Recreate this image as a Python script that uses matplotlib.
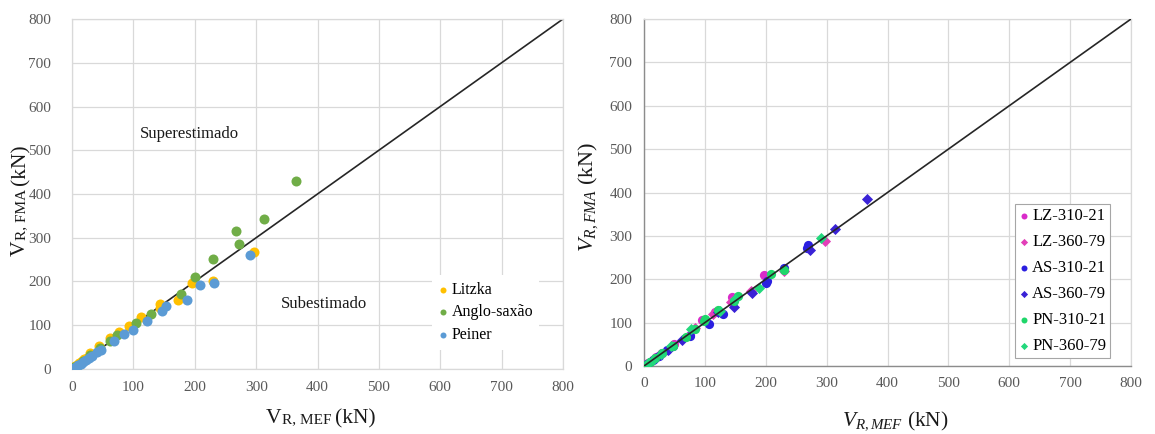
import matplotlib
matplotlib.use("Agg")
import matplotlib.pyplot as plt
from matplotlib.transforms import IdentityTransform

plt.rcParams["font.family"] = ["Liberation Serif", "DejaVu Serif"]
plt.rcParams["mathtext.fontset"] = "custom"
plt.rcParams["mathtext.rm"] = "Liberation Serif"
plt.rcParams["mathtext.it"] = "Liberation Serif:italic"

# ---------------- left panel: three analytical methods ----------------
litzka_mef = [297, 229, 196, 173, 144, 143, 112, 93, 77, 62, 44, 29, 24, 20, 16, 12, 8, 5, 2]
litzka_fma = [268, 202, 197, 158, 149, 140, 119, 99, 84, 71, 52, 37, 26, 22, 18, 13, 9, 6, 3]

anglo_mef = [365, 313, 268, 272, 229, 200, 177, 129, 105, 74, 62, 45, 30, 18, 10, 4]
anglo_fma = [429, 344, 315, 286, 252, 210, 172, 126, 105, 78, 63, 47, 32, 19, 10, 4]

peiner_mef = [290, 231, 208, 187, 153, 147, 123, 100, 84, 68, 47, 41, 32, 28, 22, 18, 14, 10, 6, 3, 1]
peiner_fma = [261, 196, 191, 157, 145, 132, 109, 90, 80, 63, 44, 38, 29, 25, 20, 16, 12, 9, 5, 2, 1]

left_series = ["Litzka", "Anglo-saxão", "Peiner"]

# ---------------- right panel: method / section combinations ----------------
lz310_mef = [197, 145, 116, 96, 75, 50, 30, 20, 10, 5, 2]
lz310_fma = [210, 158, 125, 106, 72, 50, 30, 20, 10, 5, 2]
lz360_mef = [298, 230, 176, 143, 113, 83, 47, 25, 12, 4]
lz360_fma = [289, 218, 174, 148, 120, 87, 48, 25, 12, 4]
as310_mef = [269, 268, 230, 200, 202, 130, 107, 75, 47, 37, 25, 15, 5]
as310_fma = [278, 273, 227, 191, 195, 119, 97, 70, 46, 37, 24, 14, 5]
as360_mef = [366, 314, 273, 178, 148, 122, 63, 40, 20, 8]
as360_fma = [385, 315, 267, 168, 137, 124, 60, 38, 19, 8]
pn310_mef = [230, 209, 154, 148, 122, 101, 99, 83, 69, 47, 30, 18, 10, 3]
pn310_fma = [222, 212, 162, 150, 129, 108, 104, 85, 68, 45, 30, 18, 10, 3]
pn360_mef = [290, 189, 150, 125, 78, 45, 28, 14, 6]
pn360_fma = [294, 179, 155, 127, 85, 47, 28, 14, 6]

right_series = ["LZ-310-21", "LZ-360-79", "AS-310-21", "AS-360-79", "PN-310-21", "PN-360-79"]

ticks = [0, 100, 200, 300, 400, 500, 600, 700, 800]
limit = 800

GRID = "#D9D9D9"
TICK_COLOR = "#595959"
TEXT_COLOR = "#1a1a1a"

fig = plt.figure(figsize=(11.55, 4.34), dpi=100)
ax1 = fig.add_axes([0.06234, 0.14977, 0.42511, 0.80645])
ax2 = fig.add_axes([0.55758, 0.15668, 0.42165, 0.79954])


def style_axes(ax, xpad, ypad):
    ax.set_xlim(0, limit)
    ax.set_ylim(0, limit)
    ax.set_xticks(ticks)
    ax.set_yticks(ticks)
    ax.grid(True, color=GRID, linewidth=0.9)
    ax.set_axisbelow(True)
    ax.tick_params(axis="x", length=0, pad=xpad, labelsize=11, labelcolor=TICK_COLOR)
    ax.tick_params(axis="y", length=0, pad=ypad, labelsize=11, labelcolor=TICK_COLOR)


# left panel
style_axes(ax1, 8.5, 15)
for sp in ax1.spines.values():
    sp.set_color(GRID)
    sp.set_linewidth(0.9)
ax1.plot([0, limit], [0, limit], color="#262626", linewidth=1.2, zorder=2)
ax1.scatter(litzka_mef, litzka_fma, s=52, color="#FFC000", label=left_series[0], zorder=3, linewidths=0)
ax1.scatter(anglo_mef, anglo_fma, s=52, color="#70AD47", label=left_series[1], zorder=3, linewidths=0)
ax1.scatter(peiner_mef, peiner_fma, s=52, color="#5B9BD5", label=left_series[2], zorder=3, linewidths=0)
ax1.text(111, 538, "Superestimado", fontsize=12, color=TEXT_COLOR, ha="left", va="center")
ax1.text(341, 149, "Subestimado", fontsize=12, color=TEXT_COLOR, ha="left", va="center")
leg1 = ax1.legend(loc="upper left", bbox_to_anchor=(587, 214), bbox_transform=ax1.transData,
                  fontsize=11.5, frameon=True, fancybox=False, framealpha=1, facecolor="white",
                  edgecolor="none", markerscale=0.6, handlelength=0.6, handletextpad=0.2,
                  labelspacing=0.42, borderaxespad=0, borderpad=0.4)

# right panel
style_axes(ax2, 8, 8.5)
for name in ("top", "right"):
    ax2.spines[name].set_color(GRID)
    ax2.spines[name].set_linewidth(0.9)
for name in ("left", "bottom"):
    ax2.spines[name].set_color("#8C8C8C")
    ax2.spines[name].set_linewidth(1.0)
ax2.scatter(lz310_mef, lz310_fma, s=44, marker="o", color="#D92BC9", label=right_series[0], zorder=3, linewidths=0)
ax2.scatter(lz360_mef, lz360_fma, s=32, marker="D", color="#E23FB8", label=right_series[1], zorder=3, linewidths=0)
ax2.scatter(as310_mef, as310_fma, s=44, marker="o", color="#2B1FE0", label=right_series[2], zorder=3, linewidths=0)
ax2.scatter(as360_mef, as360_fma, s=32, marker="D", color="#3A22D6", label=right_series[3], zorder=3, linewidths=0)
ax2.scatter(pn310_mef, pn310_fma, s=44, marker="o", color="#1FD66A", label=right_series[4], zorder=3, linewidths=0)
ax2.scatter(pn360_mef, pn360_fma, s=32, marker="D", color="#22D87C", label=right_series[5], zorder=3, linewidths=0)
ax2.plot([0, limit], [0, limit], color="#262626", linewidth=1.2, zorder=4)
leg2 = ax2.legend(loc="upper left", bbox_to_anchor=(609, 374), bbox_transform=ax2.transData,
                  fontsize=12, frameon=True, fancybox=False, framealpha=1, facecolor="white",
                  edgecolor="#A6A6A6", markerscale=0.65, handlelength=0.6, handletextpad=0.2,
                  labelspacing=0.6, borderaxespad=0, borderpad=0.25)
leg2.get_frame().set_linewidth(0.8)

# axis titles of the left panel: large "V" with a smaller "R, ..." on the same baseline
fig.canvas.draw()
renderer = fig.canvas.get_renderer()


def mixed_label(center, baseline, parts, vertical=False):
    texts = []
    pos = 0.0
    for s, size, gap in parts:
        pos += gap
        if vertical:
            t = fig.text(baseline, pos, s, fontsize=size, color=TEXT_COLOR, ha="left", va="baseline",
                         rotation=90, rotation_mode="anchor", transform=IdentityTransform())
        else:
            t = fig.text(pos, baseline, s, fontsize=size, color=TEXT_COLOR, ha="left", va="baseline",
                         transform=IdentityTransform())
        bb = t.get_window_extent(renderer)
        texts.append((t, pos))
        pos = bb.y1 if vertical else bb.x1
    shift = center - pos / 2.0
    for t, p in texts:
        if vertical:
            t.set_position((baseline, p + shift))
        else:
            t.set_position((p + shift, baseline))


mixed_label(321, 434 - 423, [("V", 15.5, 0), ("R, MEF", 11, 0.5), ("(kN)", 15.5, 4)])
mixed_label(434 - 200, 25, [("V", 15.5, 0), ("R, FMA", 11, 0.5), ("(kN)", 15.5, 4)], vertical=True)

# axis titles of the right panel
fig.text(895 / 1155, (434 - 421) / 434, r"$V_{R,MEF}$ (kN)", fontsize=15.5, color=TEXT_COLOR,
         ha="center", va="center")
fig.text(588 / 1155, (434 - 197) / 434, r"$V_{R,FMA}$ (kN)", fontsize=16, color=TEXT_COLOR,
         ha="center", va="center", rotation=90)

fig.savefig("out.png", dpi=100, facecolor="white")
